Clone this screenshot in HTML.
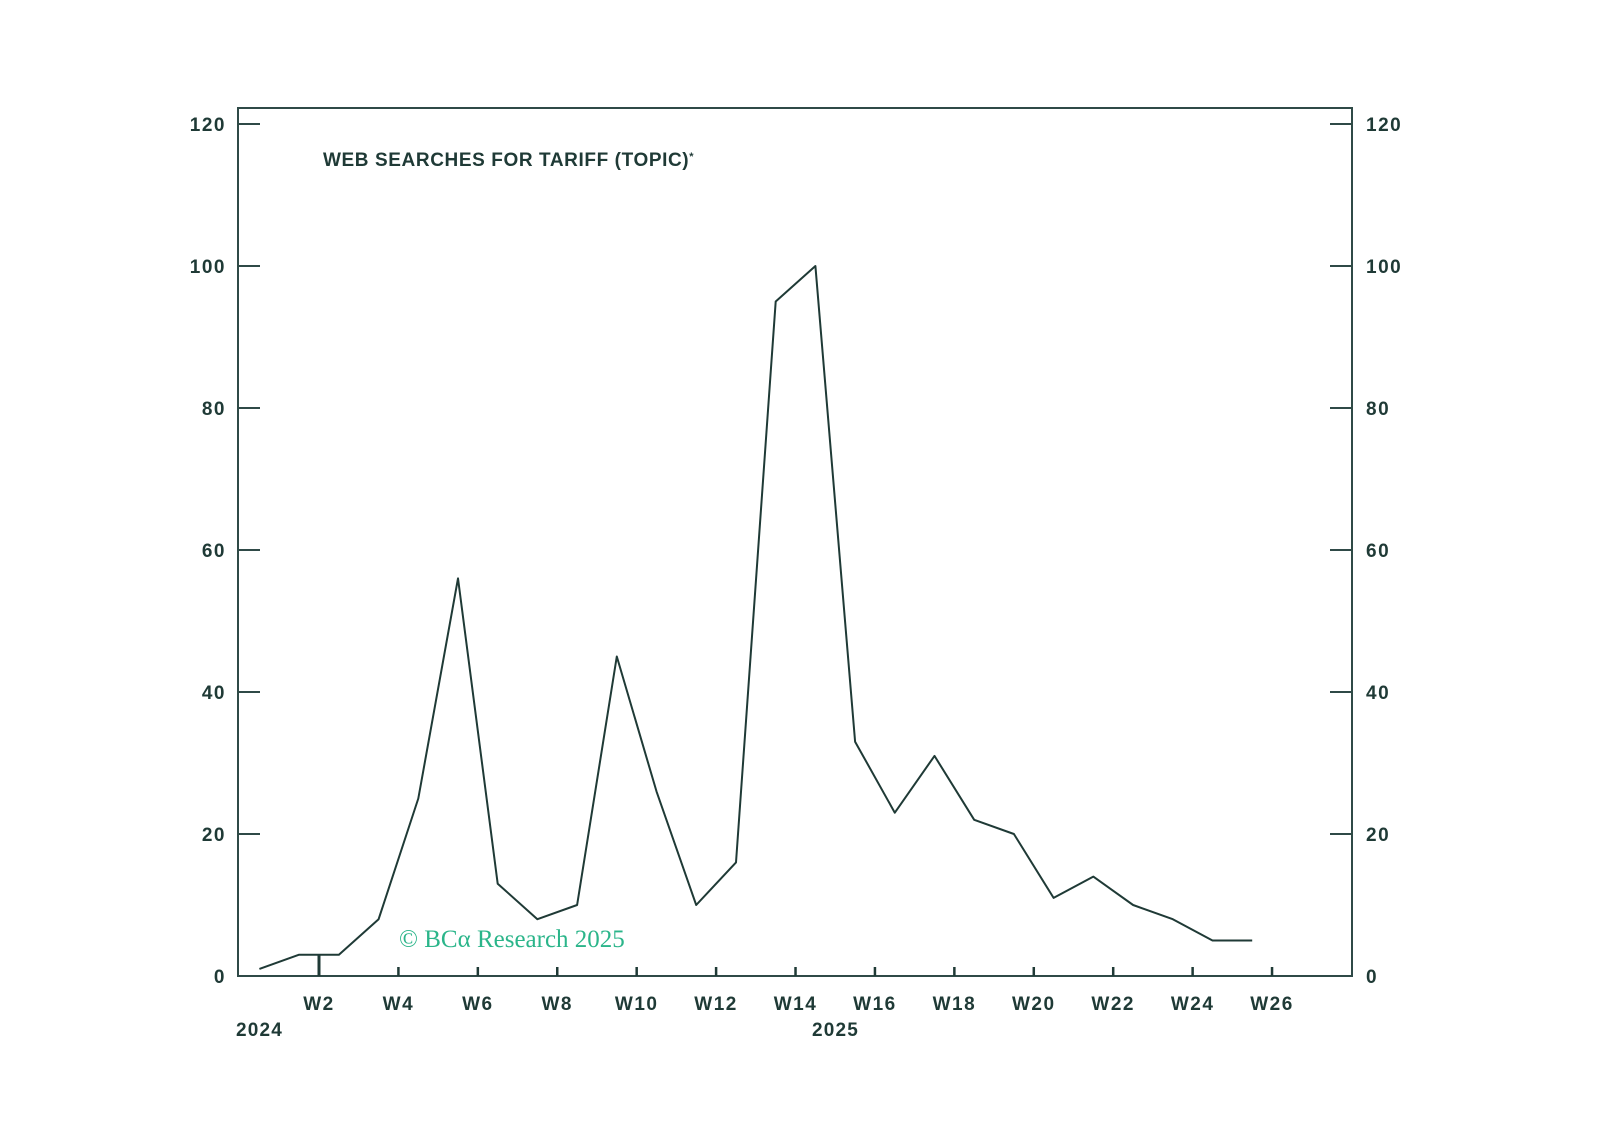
<!DOCTYPE html>
<html><head><meta charset="utf-8">
<style>
html,body{margin:0;padding:0;background:#fff;}
svg{display:block;}
text{font-family:"Liberation Sans",sans-serif;fill:#1f3a36;}
</style></head>
<body>
<svg id="chart" width="1598" height="1144" viewBox="0 0 1598 1144" xmlns="http://www.w3.org/2000/svg">
<rect x="238" y="108" width="1114" height="868" fill="none" stroke="#2f4a47" stroke-width="2"/>
<text x="323" y="166" font-size="19" font-weight="bold" letter-spacing="0.6">WEB SEARCHES FOR TARIFF (TOPIC)<tspan font-size="11" dy="-6">*</tspan></text>
<text x="399" y="947" font-size="25" style="font-family:'Liberation Serif',serif;fill:#2bb58a">© BCα Research 2025</text>
<text x="236" y="1036" font-size="19" font-weight="bold" letter-spacing="1.2">2024</text>
<text x="812" y="1036" font-size="19" font-weight="bold" letter-spacing="1.2">2025</text>
<g id="axes"></g>
<polyline id="series" fill="none" stroke="#1f3a36" stroke-width="2" stroke-linejoin="round"/>
</svg>
<script>
const yTicks = [0, 20, 40, 60, 80, 100, 120];
const xTickWeeks = [2, 4, 6, 8, 10, 12, 14, 16, 18, 20, 22, 24, 26];
const pointWeeks = [0.5,1.5,2.5,3.5,4.5,5.5,6.5,7.5,8.5,9.5,10.5,11.5,12.5,13.5,14.5,15.5,16.5,17.5,18.5,19.5,20.5,21.5,22.5,23.5,24.5,25.5];
const values = [1,3,3,8,25,56,13,8,10,45,26,10,16,95,100,33,23,31,22,20,11,14,10,8,5,5];

const NS = "http://www.w3.org/2000/svg";
function y(v){ return 976 - v * (852/120); }
function x(w){ return 319 + (w - 2) * 39.71; }
const axes = document.getElementById('axes');
function mk(tag, attrs){ const e = document.createElementNS(NS, tag); for (const k in attrs) e.setAttribute(k, attrs[k]); axes.appendChild(e); return e; }

yTicks.forEach(v => {
  const yy = y(v);
  if (v > 0) {
    const t1 = mk('line', {x1:238, x2:260, y1:yy, y2:yy, stroke:'#2f4a47', 'stroke-width':2});
    
    
    const t2 = mk('line', {x1:1330, x2:1352, y1:yy, y2:yy, stroke:'#2f4a47', 'stroke-width':2});
    
    
  }
  const l = mk('text', {x:226, y:yy+7, 'text-anchor':'end', 'font-size':19, 'font-weight':'bold', 'letter-spacing':1.5});
  l.textContent = v;
  
  
  const r = mk('text', {x:1366, y:yy+7, 'text-anchor':'start', 'font-size':19, 'font-weight':'bold', 'letter-spacing':1.5});
  r.textContent = v;
  
  
});

xTickWeeks.forEach(w => {
  const xx = x(w);
  const t = mk('line', {x1:xx, x2:xx, y1: w === 2 ? 954 : 967, y2:976, stroke:'#1f3a36', 'stroke-width': w === 2 ? 3 : 2.5});
  
  
  const l = mk('text', {x:xx, y:1010, 'text-anchor':'middle', 'font-size':19, 'font-weight':'bold', 'letter-spacing':1.5});
  l.textContent = 'W' + w;
  
  
});

document.getElementById('series').setAttribute('points',
  values.map((v, i) => x(pointWeeks[i]).toFixed(1) + ',' + y(v).toFixed(1)).join(' '));
</script>
</body></html>
